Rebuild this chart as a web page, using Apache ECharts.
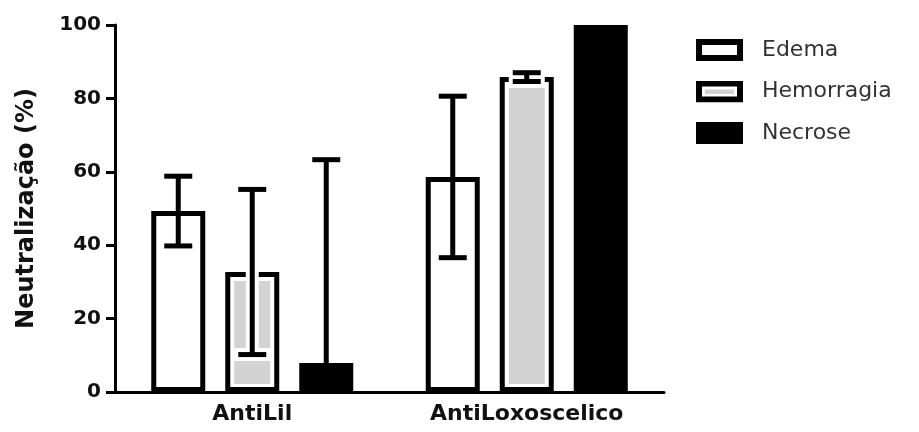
<!DOCTYPE html>
<html>
<head>
<meta charset="utf-8">
<script src="https://cdn.jsdelivr.net/npm/echarts@6/dist/echarts.min.js"></script>
<style>html,body{margin:0;padding:0;background:#fff;}#c{width:919px;height:432px;}</style>
</head>
<body>
<div id="c"></div>
<script>
// ---- data ----
var categories = ['AntiLil', 'AntiLoxoscelico'];
var seriesNames = ['Edema', 'Hemorragia', 'Necrose'];
var edemaMean = [49.3, 58.6];
var edemaErr = [9.5, 22];
var hemorragiaMean = [32.7, 85.8];
var hemorragiaErr = [22.5, 1.2];
var necroseMean = [7.9, 100];
var necroseErr = [55.4, 0];
var yTicks = [0, 20, 40, 60, 80, 100];

// ---- styles ----
var BAR_W = 54, GAP_PX = 20, BORDER = 5, ERR_W = 5, CAP_HALF = 14;
var FILLS = ['#ffffff', '#ffffff', '#000000'];
var FONT = 'DejaVu Sans';

function svgIcon(kind) {
  var s = "<svg xmlns='http://www.w3.org/2000/svg' width='61' height='22' viewBox='0 0 61 22'>";
  if (kind === 2) {
    s += "<rect x='0' y='0' width='47' height='22' fill='black'/>";
  } else {
    s += "<rect x='3' y='3' width='41' height='16' fill='white' stroke='black' stroke-width='6'/>";
    if (kind === 1) s += "<rect x='9' y='9' width='29' height='4.5' fill='#d3d3d3'/>";
  }
  s += "</svg>";
  return 'image://data:image/svg+xml;charset=utf-8,' + encodeURIComponent(s);
}

var means = [edemaMean, hemorragiaMean, necroseMean];
var errs = [edemaErr, hemorragiaErr, necroseErr];

var series = [];
seriesNames.forEach(function (name, i) {
  series.push({
    name: name,
    type: 'bar',
    barWidth: BAR_W,
    barGap: (GAP_PX / BAR_W * 100) + '%',
    data: means[i],
    itemStyle: { color: FILLS[i], borderColor: '#000', borderWidth: BORDER },
    z: 2
  });
});

seriesNames.forEach(function (name, i) {
  var data = categories.map(function (c, k) { return [k, means[i][k], errs[i][k]]; });
  series.push({
    type: 'custom',
    name: name + '_err',
    z: 5,
    silent: true,
    data: data,
    renderItem: function (params, api) {
      var k = api.value(0), m = api.value(1), e = api.value(2);
      var base = api.coord([k, 0]);
      var cx = base[0] + (i - 1) * (BAR_W + GAP_PX);
      var yTop = api.coord([k, m])[1];
      var yBase = base[1];
      var children = [];
      var lo = m - e, hi = m + e;
      var yHi = api.coord([k, hi])[1];
      var clampLo = lo < 0;
      var yLo = api.coord([k, Math.max(0, lo)])[1];
      if (i === 1) {
        var inset = BORDER + 4;
        children.push({ type: 'rect', shape: { x: cx - BAR_W / 2 + inset, y: yTop + inset, width: BAR_W - 2 * inset, height: Math.max(0, yBase - yTop - inset - 8) }, style: { fill: '#d3d3d3' } });
        if (e > 0) {
          children.push({ type: 'line', shape: { x1: cx, y1: yTop, x2: cx, y2: yLo }, style: { stroke: '#fff', lineWidth: ERR_W + 8 } });
          if (!clampLo && lo < m) children.push({ type: 'line', shape: { x1: cx - CAP_HALF - 4, y1: yLo, x2: cx + CAP_HALF + 4, y2: yLo }, style: { stroke: '#fff', lineWidth: ERR_W + 8 } });
        }
      }
      if (e > 0) {
        children.push({ type: 'line', shape: { x1: cx, y1: yHi, x2: cx, y2: yLo }, style: { stroke: '#000', lineWidth: ERR_W } });
        children.push({ type: 'line', shape: { x1: cx - CAP_HALF, y1: yHi, x2: cx + CAP_HALF, y2: yHi }, style: { stroke: '#000', lineWidth: ERR_W } });
        if (!clampLo) children.push({ type: 'line', shape: { x1: cx - CAP_HALF, y1: yLo, x2: cx + CAP_HALF, y2: yLo }, style: { stroke: '#000', lineWidth: ERR_W } });
      }
      return { type: 'group', children: children };
    }
  });
});

var chart = echarts.init(document.getElementById('c'), null, { renderer: 'canvas' });
chart.setOption({
  animation: false,
  backgroundColor: '#fff',
  grid: { left: 115, right: 255, top: 25, bottom: 40, containLabel: false },
  legend: {
    orient: 'vertical',
    left: 696,
    top: 39,
    padding: 0,
    itemWidth: 61,
    itemHeight: 22,
    itemGap: 19.5,
    selectedMode: false,
    data: seriesNames.map(function (n, i) { return { name: n, icon: svgIcon(i) }; }),
    textStyle: { fontFamily: FONT, fontSize: 22, color: '#333', padding: [12, 0, 0, 0] }
  },
  xAxis: {
    type: 'category',
    data: categories,
    axisLine: { lineStyle: { color: '#000', width: 3 } },
    axisTick: { alignWithLabel: true, length: 6, lineStyle: { color: '#000', width: 3 } },
    axisLabel: { fontFamily: FONT, fontWeight: 'bold', fontSize: 22, color: '#111', margin: 11 },
    splitLine: { show: false }
  },
  yAxis: {
    type: 'value',
    min: yTicks[0],
    max: yTicks[yTicks.length - 1],
    interval: yTicks[1] - yTicks[0],
    name: 'Neutralização (%)',
    nameLocation: 'middle',
    nameRotate: 90,
    nameGap: 76,
    nameTextStyle: { fontFamily: FONT, fontWeight: 'bold', fontSize: 24, color: '#111' },
    axisLine: { show: true, lineStyle: { color: '#000', width: 3 } },
    axisTick: { show: true, length: 9, lineStyle: { color: '#000', width: 3 } },
    axisLabel: { fontFamily: FONT, fontWeight: 'bold', fontSize: 20, color: '#111', margin: 14 },
    splitLine: { show: false }
  },
  series: series
});
</script>
</body>
</html>
